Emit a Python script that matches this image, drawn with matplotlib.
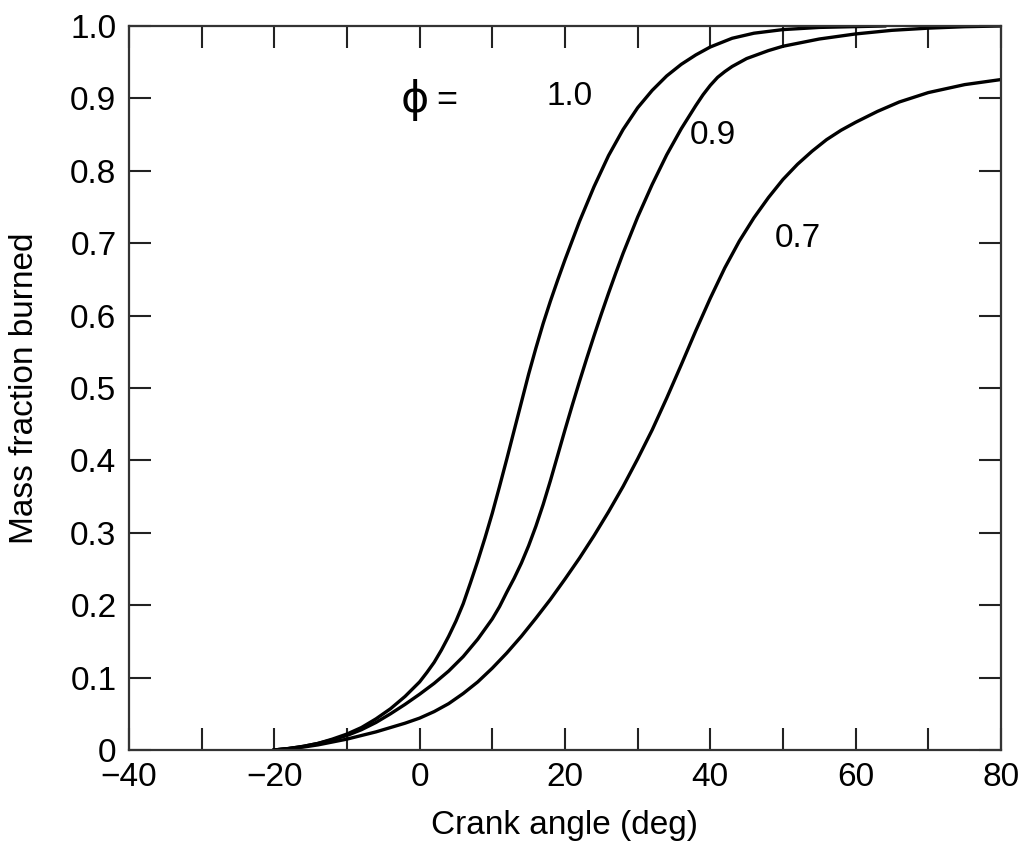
import matplotlib
matplotlib.use("Agg")
import matplotlib.pyplot as plt

plt.rcParams['font.family'] = ['Liberation Sans', 'DejaVu Sans']

# crank angle (deg) and mass fraction burned
x_10 = [-20, -18, -16, -14, -12, -10, -8, -6, -4, -2, 0, 1, 2, 3, 4, 5, 6, 7, 8, 9, 10, 11, 12, 13, 14,
        15, 16, 17, 18, 19, 20, 22, 24, 26, 28, 30, 32, 34, 36, 38, 40, 43, 46, 50, 55, 64]
y_10 = [0.0, 0.002, 0.005, 0.009, 0.015, 0.022, 0.031, 0.043, 0.057, 0.074, 0.094, 0.107, 0.121, 0.138,
        0.157, 0.178, 0.202, 0.231, 0.261, 0.293, 0.327, 0.364, 0.402, 0.441, 0.480, 0.519, 0.555, 0.589,
        0.620, 0.649, 0.677, 0.730, 0.778, 0.821, 0.857, 0.887, 0.911, 0.931, 0.947, 0.960, 0.971, 0.983,
        0.990, 0.995, 0.998, 1.0]

x_09 = [-20, -18, -16, -14, -12, -10, -8, -6, -4, -2, 0, 2, 4, 6, 8, 10, 11, 12, 13, 14, 15, 16, 17, 18,
        19, 20, 21, 22, 23, 24, 25, 26, 27, 28, 30, 32, 34, 36, 38, 39, 40, 41, 42, 43, 45, 48, 50, 55, 60,
        65, 70, 75, 80]
y_09 = [0.0, 0.002, 0.005, 0.009, 0.014, 0.020, 0.028, 0.038, 0.050, 0.063, 0.077, 0.092, 0.109, 0.129,
        0.153, 0.181, 0.198, 0.218, 0.237, 0.258, 0.282, 0.309, 0.339, 0.372, 0.407, 0.442, 0.476, 0.509,
        0.541, 0.572, 0.602, 0.631, 0.659, 0.686, 0.736, 0.781, 0.822, 0.858, 0.890, 0.905, 0.918, 0.929,
        0.937, 0.944, 0.955, 0.966, 0.972, 0.982, 0.989, 0.994, 0.997, 0.999, 1.0]

x_07 = [-20, -18, -16, -14, -12, -10, -8, -6, -4, -2, 0, 2, 4, 6, 8, 10, 12, 14, 16, 18, 20, 22, 24, 26,
        28, 30, 32, 34, 36, 38, 40, 42, 44, 46, 48, 50, 52, 54, 56, 58, 60, 63, 66, 70, 75, 80]
y_07 = [0.0, 0.002, 0.004, 0.007, 0.011, 0.015, 0.020, 0.025, 0.031, 0.037, 0.044, 0.053, 0.064, 0.078,
        0.094, 0.113, 0.134, 0.157, 0.182, 0.208, 0.236, 0.265, 0.296, 0.329, 0.364, 0.402, 0.442, 0.486,
        0.532, 0.579, 0.624, 0.666, 0.703, 0.735, 0.763, 0.788, 0.809, 0.827, 0.843, 0.856, 0.867, 0.882,
        0.895, 0.908, 0.919, 0.926]

xticks = list(range(-40, 81, 10))
xtick_labels = ['\u221240', '', '\u221220', '', '0', '', '20', '', '40', '', '60', '', '80']
yticks = [i / 10 for i in range(11)]
ytick_labels = ['0', '0.1', '0.2', '0.3', '0.4', '0.5', '0.6', '0.7', '0.8', '0.9', '1.0']

fig = plt.figure(figsize=(10.23, 8.46), dpi=100)
ax = fig.add_axes([0.126, 0.1135, 0.8525, 0.8558])

for xs, ys in [(x_10, y_10), (x_09, y_09), (x_07, y_07)]:
    ax.plot(xs, ys, color='black', lw=2.4, solid_joinstyle='round')

ax.set_xlim(-40, 80)
ax.set_ylim(0, 1.0)
ax.set_xticks(xticks)
ax.set_xticklabels(xtick_labels)
ax.set_yticks(yticks)
ax.set_yticklabels(ytick_labels)
ax.tick_params(direction='in', length=16, width=1.5, top=True, right=True,
               labelsize=24, pad=9, color='#222222')
for s in ax.spines.values():
    s.set_linewidth(1.6)
    s.set_color('#333333')

ax.set_xlabel('Crank angle (deg)', fontsize=24)
ax.set_ylabel('Mass fraction burned', fontsize=24)
ax.xaxis.set_label_coords(0.5, -0.083)
ax.yaxis.set_label_coords(-0.102, 0.5)

ax.text(-0.6, 0.898, '\u03d5', fontsize=31, family='DejaVu Sans', ha='center', va='center')
ax.text(3.7, 0.897, '=', fontsize=26, ha='center', va='center')
ax.text(20.7, 0.902, '1.0', fontsize=24, ha='center', va='center')
ax.text(40.4, 0.849, '0.9', fontsize=24, ha='center', va='center')
ax.text(52.0, 0.707, '0.7', fontsize=24, ha='center', va='center')

fig.savefig('out.png', dpi=100)
